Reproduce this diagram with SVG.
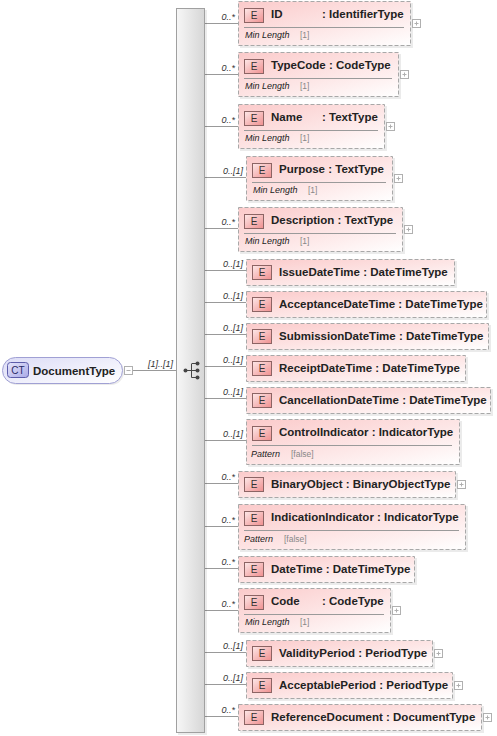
<svg xmlns="http://www.w3.org/2000/svg" width="497" height="736" viewBox="0 0 497 736">
<defs>
<linearGradient id="eg" x1="0" y1="0" x2="1" y2="1"><stop offset="0" stop-color="#fbcaca"/><stop offset="0.55" stop-color="#fde6e6"/><stop offset="1" stop-color="#ffffff"/></linearGradient>
<linearGradient id="ei" x1="0" y1="0" x2="1" y2="1"><stop offset="0" stop-color="#fde8e8"/><stop offset="1" stop-color="#ef8f8f"/></linearGradient>
<linearGradient id="ctg" x1="0" y1="0" x2="1" y2="1"><stop offset="0" stop-color="#dcdcf6"/><stop offset="1" stop-color="#ffffff"/></linearGradient>
<linearGradient id="cti" x1="0" y1="0" x2="1" y2="1"><stop offset="0" stop-color="#e6e6fb"/><stop offset="1" stop-color="#a9a9e6"/></linearGradient>
<linearGradient id="barg" x1="0" y1="0" x2="1" y2="0"><stop offset="0" stop-color="#f7f7f7"/><stop offset="1" stop-color="#d6d6d6"/></linearGradient>
</defs>
<style>
.box{fill:url(#eg);stroke:#a8a8a8;stroke-width:1;stroke-dasharray:4 2}
.sh{fill:#000;opacity:0.08}
.ic{fill:url(#ei);stroke:#8c6464;stroke-width:1}
.ict{font-family:"Liberation Sans",Arial,sans-serif;font-size:10px;fill:#333;text-anchor:middle}
.nm{font-family:"Liberation Sans",Arial,sans-serif;font-size:11.5px;font-weight:bold;fill:#222}
.sep{stroke:#9a9a9a;stroke-width:1}
.fk{font-family:"Liberation Sans",Arial,sans-serif;font-size:9px;font-style:italic;fill:#222}
.fv{font-family:"Liberation Sans",Arial,sans-serif;font-size:8.5px;fill:#888}
.pl{fill:#fff;stroke:#b0b0b0;stroke-width:1}
.pll{stroke:#b0b0b0;stroke-width:1}
.cn{stroke:#999;stroke-width:1;fill:none}
.lb{font-family:"Liberation Sans",Arial,sans-serif;font-size:9px;font-style:italic;fill:#333;text-anchor:end}
</style>

<g id="connectors">
<line class="cn" x1="132" y1="370.5" x2="176" y2="370.5"/>
<text class="lb" x="173" y="367" style="text-anchor:end">[1]..[1]</text>
<line class="cn" x1="205" y1="23.5" x2="238" y2="23.5"/><text class="lb" x="235" y="20">0..*</text>
<line class="cn" x1="205" y1="74.5" x2="238" y2="74.5"/><text class="lb" x="235" y="71">0..*</text>
<line class="cn" x1="205" y1="126.5" x2="238" y2="126.5"/><text class="lb" x="235" y="123">0..*</text>
<line class="cn" x1="205" y1="177.5" x2="246" y2="177.5"/><text class="lb" x="243" y="174">0..[1]</text>
<line class="cn" x1="205" y1="228.5" x2="238" y2="228.5"/><text class="lb" x="235" y="225">0..*</text>
<line class="cn" x1="205" y1="270.5" x2="246" y2="270.5"/><text class="lb" x="243" y="267">0..[1]</text>
<line class="cn" x1="205" y1="302.5" x2="246" y2="302.5"/><text class="lb" x="243" y="299">0..[1]</text>
<line class="cn" x1="205" y1="334.5" x2="246" y2="334.5"/><text class="lb" x="243" y="331">0..[1]</text>
<line class="cn" x1="205" y1="366.5" x2="246" y2="366.5"/><text class="lb" x="243" y="363">0..[1]</text>
<line class="cn" x1="205" y1="398.5" x2="246" y2="398.5"/><text class="lb" x="243" y="395">0..[1]</text>
<line class="cn" x1="205" y1="440.5" x2="246" y2="440.5"/><text class="lb" x="243" y="437">0..[1]</text>
<line class="cn" x1="205" y1="483.5" x2="238" y2="483.5"/><text class="lb" x="235" y="480">0..*</text>
<line class="cn" x1="205" y1="526.5" x2="238" y2="526.5"/><text class="lb" x="235" y="523">0..*</text>
<line class="cn" x1="205" y1="568.5" x2="238" y2="568.5"/><text class="lb" x="235" y="565">0..*</text>
<line class="cn" x1="205" y1="610.5" x2="238" y2="610.5"/><text class="lb" x="235" y="607">0..*</text>
<line class="cn" x1="205" y1="652.5" x2="246" y2="652.5"/><text class="lb" x="243" y="649">0..[1]</text>
<line class="cn" x1="205" y1="684.5" x2="246" y2="684.5"/><text class="lb" x="243" y="681">0..[1]</text>
<line class="cn" x1="205" y1="716.5" x2="238" y2="716.5"/><text class="lb" x="235" y="713">0..*</text>
</g>

<g id="DocumentType">
<rect x="4" y="359" width="120" height="26" rx="13" fill="#000" opacity="0.08"/>
<rect x="2.5" y="357.5" width="120" height="26" rx="13" fill="url(#ctg)" stroke="#a0a0d4"/>
<rect x="7.5" y="362.5" width="21" height="15" rx="3" fill="url(#cti)" stroke="#5d5daa"/>
<text x="18" y="374" class="ict" style="fill:#2a2a66">CT</text>
<text x="33" y="374.5" class="nm">DocumentType</text>
<rect x="124.5" y="366.5" width="8" height="8" class="pl"/>
<line x1="126.5" y1="370.5" x2="130.5" y2="370.5" class="pll"/>
</g>

<g id="sequence">
<rect x="178" y="10" width="29" height="725" fill="#000" opacity="0.08"/>
<rect x="176.5" y="8.5" width="28" height="724" fill="url(#barg)" stroke="#a0a0a0"/>
<g stroke="#444" stroke-width="1" fill="#444">
<line x1="186" y1="370.5" x2="191.5" y2="370.5"/>
<line x1="191.5" y1="364" x2="191.5" y2="377.5"/>
<line x1="191.5" y1="363.5" x2="197" y2="363.5"/>
<line x1="191.5" y1="377.5" x2="197" y2="377.5"/>
<line x1="191.5" y1="370.5" x2="197" y2="370.5"/>
<circle cx="185.5" cy="370.5" r="2" stroke="none"/>
<circle cx="197.5" cy="363.5" r="2" stroke="none"/>
<circle cx="197.5" cy="370.5" r="2" stroke="none"/>
<circle cx="197.5" cy="377.5" r="2" stroke="none"/>
</g>
</g>

<g id="ID">
<rect x="240" y="3" width="173" height="45" class="sh"/>
<rect x="238.5" y="1.5" width="172" height="44" class="box"/>
<rect x="244.5" y="8.5" width="19" height="14" class="ic"/><text x="254" y="19" class="ict">E</text>
<text x="271" y="18" class="nm">ID</text><text x="322" y="18" class="nm">: IdentifierType</text>
<line x1="244" y1="27.5" x2="404" y2="27.5" class="sep"/>
<text x="245" y="38" class="fk">Min Length</text><text x="300" y="38" class="fv">[1]</text>
<rect x="412.5" y="19.5" width="8" height="8" class="pl"/><path d="M414.5 23.5h4M416.5 21.5v4" class="pll"/>
</g>

<g id="TypeCode">
<rect x="240" y="54" width="161" height="45" class="sh"/>
<rect x="238.5" y="52.5" width="160" height="44" class="box"/>
<rect x="244.5" y="59.5" width="19" height="14" class="ic"/><text x="254" y="70" class="ict">E</text>
<text x="271" y="69" class="nm">TypeCode : CodeType</text>
<line x1="244" y1="78.5" x2="392" y2="78.5" class="sep"/>
<text x="245" y="89" class="fk">Min Length</text><text x="300" y="89" class="fv">[1]</text>
<rect x="400.5" y="70.5" width="8" height="8" class="pl"/><path d="M402.5 74.5h4M404.5 72.5v4" class="pll"/>
</g>

<g id="Name">
<rect x="240" y="106" width="147" height="45" class="sh"/>
<rect x="238.5" y="104.5" width="146" height="44" class="box"/>
<rect x="244.5" y="111.5" width="19" height="14" class="ic"/><text x="254" y="122" class="ict">E</text>
<text x="271" y="121" class="nm">Name</text><text x="322" y="121" class="nm">: TextType</text>
<line x1="244" y1="130.5" x2="378" y2="130.5" class="sep"/>
<text x="245" y="141" class="fk">Min Length</text><text x="300" y="141" class="fv">[1]</text>
<rect x="386.5" y="122.5" width="8" height="8" class="pl"/><path d="M388.5 126.5h4M390.5 124.5v4" class="pll"/>
</g>

<g id="Purpose">
<rect x="248" y="158" width="147" height="45" class="sh"/>
<rect x="246.5" y="156.5" width="146" height="44" class="box"/>
<rect x="252.5" y="163.5" width="19" height="14" class="ic"/><text x="262" y="174" class="ict">E</text>
<text x="279" y="173" class="nm">Purpose : TextType</text>
<line x1="252" y1="182.5" x2="386" y2="182.5" class="sep"/>
<text x="253" y="193" class="fk">Min Length</text><text x="308" y="193" class="fv">[1]</text>
<rect x="394.5" y="174.5" width="8" height="8" class="pl"/><path d="M396.5 178.5h4M398.5 176.5v4" class="pll"/>
</g>

<g id="Description">
<rect x="240" y="209" width="165" height="45" class="sh"/>
<rect x="238.5" y="207.5" width="164" height="44" class="box"/>
<rect x="244.5" y="214.5" width="19" height="14" class="ic"/><text x="254" y="225" class="ict">E</text>
<text x="271" y="224" class="nm">Description : TextType</text>
<line x1="244" y1="233.5" x2="396" y2="233.5" class="sep"/>
<text x="245" y="244" class="fk">Min Length</text><text x="300" y="244" class="fv">[1]</text>
<rect x="404.5" y="225.5" width="8" height="8" class="pl"/><path d="M406.5 229.5h4M408.5 227.5v4" class="pll"/>
</g>

<g id="IssueDateTime">
<rect x="248" y="261" width="209" height="27" class="sh"/>
<rect x="246.5" y="259.5" width="208" height="26" class="box"/>
<rect x="252.5" y="265.5" width="19" height="14" class="ic"/><text x="262" y="276" class="ict">E</text>
<text x="279" y="276" class="nm">IssueDateTime : DateTimeType</text>
</g>

<g id="AcceptanceDateTime">
<rect x="248" y="293" width="241" height="27" class="sh"/>
<rect x="246.5" y="291.5" width="240" height="26" class="box"/>
<rect x="252.5" y="297.5" width="19" height="14" class="ic"/><text x="262" y="308" class="ict">E</text>
<text x="279" y="308" class="nm">AcceptanceDateTime : DateTimeType</text>
</g>

<g id="SubmissionDateTime">
<rect x="248" y="325" width="243" height="27" class="sh"/>
<rect x="246.5" y="323.5" width="242" height="26" class="box"/>
<rect x="252.5" y="329.5" width="19" height="14" class="ic"/><text x="262" y="340" class="ict">E</text>
<text x="279" y="340" class="nm">SubmissionDateTime : DateTimeType</text>
</g>

<g id="ReceiptDateTime">
<rect x="248" y="357" width="220" height="27" class="sh"/>
<rect x="246.5" y="355.5" width="219" height="26" class="box"/>
<rect x="252.5" y="361.5" width="19" height="14" class="ic"/><text x="262" y="372" class="ict">E</text>
<text x="279" y="372" class="nm">ReceiptDateTime : DateTimeType</text>
</g>

<g id="CancellationDateTime">
<rect x="248" y="389" width="245" height="27" class="sh"/>
<rect x="246.5" y="387.5" width="244" height="26" class="box"/>
<rect x="252.5" y="393.5" width="19" height="14" class="ic"/><text x="262" y="404" class="ict">E</text>
<text x="279" y="404" class="nm">CancellationDateTime : DateTimeType</text>
</g>

<g id="ControlIndicator">
<rect x="248" y="421" width="214" height="46" class="sh"/>
<rect x="246.5" y="419.5" width="213" height="45" class="box"/>
<rect x="252.5" y="426.5" width="19" height="14" class="ic"/><text x="262" y="437" class="ict">E</text>
<text x="279" y="436" class="nm">ControlIndicator : IndicatorType</text>
<line x1="252" y1="445.5" x2="452" y2="445.5" class="sep"/>
<text x="251" y="457" class="fk">Pattern</text><text x="291" y="457" class="fv">[false]</text>
</g>

<g id="BinaryObject">
<rect x="240" y="473" width="218" height="27" class="sh"/>
<rect x="238.5" y="471.5" width="217" height="26" class="box"/>
<rect x="244.5" y="477.5" width="19" height="14" class="ic"/><text x="254" y="488" class="ict">E</text>
<text x="271" y="488" class="nm">BinaryObject : BinaryObjectType</text>
<rect x="457.5" y="480.5" width="8" height="8" class="pl"/><path d="M459.5 484.5h4M461.5 482.5v4" class="pll"/>
</g>

<g id="IndicationIndicator">
<rect x="240" y="506" width="228" height="46" class="sh"/>
<rect x="238.5" y="504.5" width="227" height="45" class="box"/>
<rect x="244.5" y="511.5" width="19" height="14" class="ic"/><text x="254" y="522" class="ict">E</text>
<text x="271" y="521" class="nm">IndicationIndicator : IndicatorType</text>
<line x1="244" y1="530.5" x2="459" y2="530.5" class="sep"/>
<text x="244" y="542" class="fk">Pattern</text><text x="284" y="542" class="fv">[false]</text>
</g>

<g id="DateTime">
<rect x="240" y="558" width="177" height="27" class="sh"/>
<rect x="238.5" y="556.5" width="176" height="26" class="box"/>
<rect x="244.5" y="562.5" width="19" height="14" class="ic"/><text x="254" y="573" class="ict">E</text>
<text x="271" y="573" class="nm">DateTime : DateTimeType</text>
</g>

<g id="Code">
<rect x="240" y="590" width="153" height="45" class="sh"/>
<rect x="238.5" y="588.5" width="152" height="44" class="box"/>
<rect x="244.5" y="595.5" width="19" height="14" class="ic"/><text x="254" y="606" class="ict">E</text>
<text x="271" y="605" class="nm">Code</text><text x="322" y="605" class="nm">: CodeType</text>
<line x1="244" y1="614.5" x2="384" y2="614.5" class="sep"/>
<text x="245" y="625" class="fk">Min Length</text><text x="300" y="625" class="fv">[1]</text>
<rect x="392.5" y="606.5" width="8" height="8" class="pl"/><path d="M394.5 610.5h4M396.5 608.5v4" class="pll"/>
</g>

<g id="ValidityPeriod">
<rect x="248" y="642" width="187" height="27" class="sh"/>
<rect x="246.5" y="640.5" width="186" height="26" class="box"/>
<rect x="252.5" y="646.5" width="19" height="14" class="ic"/><text x="262" y="657" class="ict">E</text>
<text x="279" y="657" class="nm">ValidityPeriod : PeriodType</text>
<rect x="434.5" y="649.5" width="8" height="8" class="pl"/><path d="M436.5 653.5h4M438.5 651.5v4" class="pll"/>
</g>

<g id="AcceptablePeriod">
<rect x="248" y="674" width="207" height="27" class="sh"/>
<rect x="246.5" y="672.5" width="206" height="26" class="box"/>
<rect x="252.5" y="678.5" width="19" height="14" class="ic"/><text x="262" y="689" class="ict">E</text>
<text x="279" y="689" class="nm">AcceptablePeriod : PeriodType</text>
<rect x="454.5" y="681.5" width="8" height="8" class="pl"/><path d="M456.5 685.5h4M458.5 683.5v4" class="pll"/>
</g>

<g id="ReferenceDocument">
<rect x="240" y="706" width="244" height="27" class="sh"/>
<rect x="238.5" y="704.5" width="243" height="26" class="box"/>
<rect x="244.5" y="710.5" width="19" height="14" class="ic"/><text x="254" y="721" class="ict">E</text>
<text x="271" y="721" class="nm">ReferenceDocument : DocumentType</text>
<rect x="483.5" y="713.5" width="8" height="8" class="pl"/><path d="M485.5 717.5h4M487.5 715.5v4" class="pll"/>
</g>
</svg>
